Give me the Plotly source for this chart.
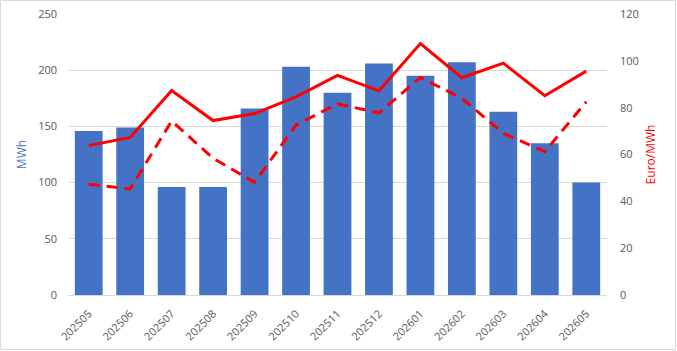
import plotly.graph_objects as go

months = ["202505", "202506", "202507", "202508", "202509", "202510", "202511",
          "202512", "202601", "202602", "202603", "202604", "202605"]
mwh = [146, 149, 96, 96, 166, 203, 180, 206, 195, 207, 163, 135, 100]
price_solid = [63.8, 67.3, 87.3, 74.5, 77.5, 84.6, 93.8, 87.2, 107.4, 92.8, 99.0, 85.1, 95.6]
price_dash = [47.3, 45.3, 74.3, 58.4, 48.1, 72.6, 81.6, 77.8, 92.9, 84.0, 69.0, 61.2, 82.5]

BLUE = "#4472C4"
RED = "#FF0000"
GRAY = "#595959"
FONT = "Open Sans"

fig = go.Figure()
fig.add_trace(go.Bar(x=months, y=mwh, marker_color=BLUE, marker_line_width=0,
                     name="MWh", yaxis="y"))
fig.add_trace(go.Scatter(x=months, y=price_solid, mode="lines",
                         line=dict(color=RED, width=3), yaxis="y2", name="A"))
fig.add_trace(go.Scatter(x=months, y=price_dash, mode="lines",
                         line=dict(color=RED, width=3, dash="11px,7px"), yaxis="y2", name="B"))

W, H = 677, 351
L, R, T, B = 68, 70, 14, 56
pw = W - L - R
ph = H - T - B

fig.update_layout(
    width=W, height=H,
    margin=dict(l=L, r=R, t=T, b=B, pad=0, autoexpand=False),
    paper_bgcolor="white", plot_bgcolor="white",
    showlegend=False,
    bargap=0.33,
    font=dict(family=FONT, size=11, color=GRAY),
    xaxis=dict(tickangle=-45, showgrid=False, showline=True, linecolor="#D9D9D9",
               linewidth=1, ticks="", tickfont=dict(size=11, color=GRAY),
               ticklabelstandoff=7, automargin=False),
    yaxis=dict(range=[0, 250], tickvals=[0, 50, 100, 150, 200, 250],
               showgrid=True, gridcolor="#D9D9D9", gridwidth=1, zeroline=False,
               showline=False, ticks="", ticklabelstandoff=10, automargin=False,
               tickfont=dict(size=11, color=GRAY),
               title=dict(text="MWh", font=dict(color=BLUE, size=12, family=FONT), standoff=8)),
    yaxis2=dict(range=[0, 120], tickvals=[0, 20, 40, 60, 80, 100, 120], overlaying="y",
                side="right", showgrid=False, zeroline=False, showline=False, ticks="",
                ticklabelstandoff=12, automargin=False,
                tickfont=dict(size=11, color=GRAY),
                title=dict(text="Euro/MWh", font=dict(color=RED, size=12, family=FONT), standoff=8)),
    shapes=[dict(type="rect", xref="paper", yref="paper",
                 x0=-(L - 0.5) / pw, x1=1 + (R - 1.5) / pw,
                 y0=-(B - 1.5) / ph, y1=1 + (T - 0.5) / ph,
                 line=dict(color="#D9D9D9", width=1), layer="below")],
)

fig.write_html("out.html")
